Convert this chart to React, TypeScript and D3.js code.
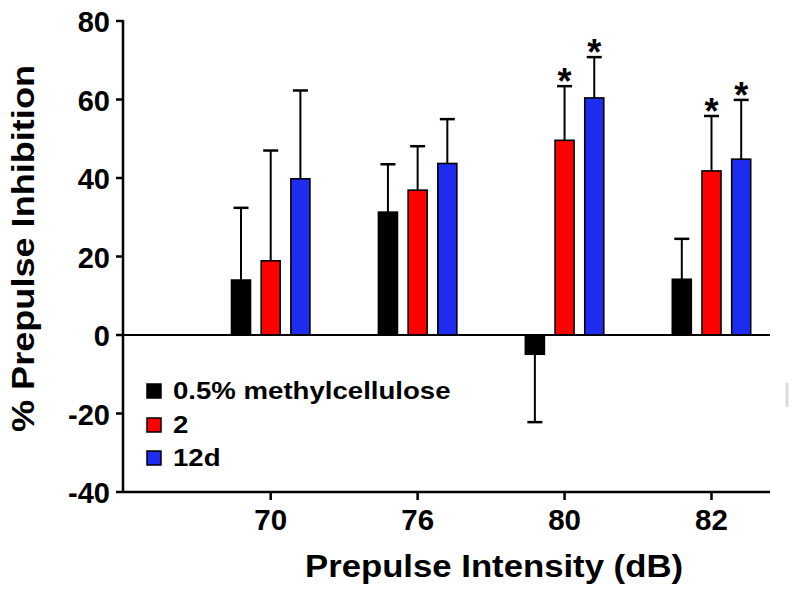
import React from "react";
import * as d3 from "d3";

const categories = ["70", "76", "80", "82"];
const seriesNames = ["0.5% methylcellulose", "2", "12d"];
const seriesColors = ["#000000", "#ff0000", "#1e2cf0"];
const vehicleMean = [14.0, 31.3, -4.9, 14.2];
const vehicleErr = [18.4, 12.2, 17.3, 10.3];
const cmpd2Mean = [18.9, 36.9, 49.6, 41.8];
const cmpd2Err = [28.1, 11.2, 13.8, 14.0];
const cmpd12dMean = [39.8, 43.7, 60.4, 44.8];
const cmpd12dErr = [22.5, 11.3, 10.4, 15.1];
const vehicleSig = [false, false, false, false];
const cmpd2Sig = [false, false, true, true];
const cmpd12dSig = [false, false, true, true];
const yTicks = [-40, -20, 0, 20, 40, 60, 80];

const FONT = "'Liberation Sans', Arial, Helvetica, sans-serif";

export default function App() {
  const means = [vehicleMean, cmpd2Mean, cmpd12dMean];
  const errs = [vehicleErr, cmpd2Err, cmpd12dErr];
  const sigs = [vehicleSig, cmpd2Sig, cmpd12dSig];

  const axisLeftX = 123;
  const axisRightX = 770;
  const y = d3.scaleLinear().domain([-40, 80]).range([492, 21]);
  const x = d3.scalePoint<string>().domain(categories).range([270.7, 711.5]);
  const inner = d3
    .scaleBand<string>()
    .domain(seriesNames)
    .range([-39.2, 39.2])
    .paddingInner(0.36)
    .paddingOuter(0);
  const bw = inner.bandwidth();
  const capW = 15;

  const bars: React.ReactNode[] = [];
  const errorBars: React.ReactNode[] = [];
  const stars: React.ReactNode[] = [];

  seriesNames.forEach((s, si) => {
    categories.forEach((c, ci) => {
      const v = means[si][ci];
      const e = errs[si][ci];
      const x0 = (x(c) as number) + (inner(s) as number);
      const cx = x0 + bw / 2;
      const yTop = y(Math.max(0, v));
      const yBot = y(Math.min(0, v));
      const eEnd = v >= 0 ? y(v + e) : y(v - e);
      const eStart = y(v);
      errorBars.push(
        <g key={`e-${si}-${ci}`} stroke="#000" strokeWidth={2}>
          <line x1={cx} x2={cx} y1={eStart} y2={eEnd} />
          <line x1={cx - capW / 2} x2={cx + capW / 2} y1={eEnd} y2={eEnd} strokeWidth={2.5} />
        </g>
      );
      bars.push(
        <rect
          key={`b-${si}-${ci}`}
          x={x0}
          y={yTop}
          width={bw}
          height={yBot - yTop}
          fill={seriesColors[si]}
          stroke="#000"
          strokeWidth={1.6}
        />
      );
      if (sigs[si][ci]) {
        stars.push(
          <text
            key={`s-${si}-${ci}`}
            x={cx}
            y={eEnd + 8}
            textAnchor="middle"
            fontFamily={FONT}
            fontWeight="bold"
            fontSize={36}
            fill="#000"
          >
            *
          </text>
        );
      }
    });
  });

  const legendRows = [399, 433, 466];

  return (
    <svg
      width={800}
      height={600}
      style={{ position: "absolute", left: 0, top: 0, background: "#fff" }}
    >
      <rect x={0} y={0} width={800} height={600} fill="#fff" />
      {errorBars}
      {bars}
      {stars}
      {/* zero line */}
      <line x1={axisLeftX} x2={axisRightX} y1={y(0)} y2={y(0)} stroke="#000" strokeWidth={2} />
      {/* y axis */}
      <line x1={axisLeftX} x2={axisLeftX} y1={y(80) - 1} y2={y(-40) + 1} stroke="#000" strokeWidth={2.5} />
      {yTicks.map((t) => (
        <g key={`yt-${t}`}>
          <line x1={axisLeftX - 7} x2={axisLeftX} y1={y(t)} y2={y(t)} stroke="#000" strokeWidth={2.5} />
          <text
            x={110}
            y={y(t) + 11}
            textAnchor="end"
            fontFamily={FONT}
            fontWeight="bold"
            fontSize={29}
            fill="#000"
          >
            {t}
          </text>
        </g>
      ))}
      {/* x axis */}
      <line x1={axisLeftX} x2={axisRightX} y1={y(-40)} y2={y(-40)} stroke="#000" strokeWidth={2.5} />
      {categories.map((c) => (
        <g key={`xt-${c}`}>
          <line x1={x(c)} x2={x(c)} y1={y(-40)} y2={y(-40) + 8} stroke="#000" strokeWidth={2.5} />
          <text
            x={x(c)}
            y={530}
            textAnchor="middle"
            fontFamily={FONT}
            fontWeight="bold"
            fontSize={29.5}
            fill="#000"
          >
            {c}
          </text>
        </g>
      ))}
      {/* axis titles */}
      <text
        x={494}
        y={577}
        textAnchor="middle"
        fontFamily={FONT}
        fontWeight="bold"
        fontSize={31}
        textLength={378}
        lengthAdjust="spacingAndGlyphs"
        fill="#000"
      >
        Prepulse Intensity (dB)
      </text>
      <text
        transform={`translate(34,248.5) rotate(-90)`}
        textAnchor="middle"
        fontFamily={FONT}
        fontWeight="bold"
        fontSize={31}
        textLength={367}
        lengthAdjust="spacingAndGlyphs"
        fill="#000"
      >
        % Prepulse Inhibition
      </text>
      {/* legend */}
      {seriesNames.map((s, i) => (
        <g key={`lg-${s}`}>
          <rect
            x={147}
            y={legendRows[i] - 15}
            width={14}
            height={14}
            fill={seriesColors[i]}
            stroke="#000"
            strokeWidth={1.5}
          />
          <g transform={`translate(173,${legendRows[i]}) scale(1.2,1)`}>
            <text x={0} y={0} fontFamily={FONT} fontWeight="bold" fontSize={23} fill="#000">
              {s}
            </text>
          </g>
        </g>
      ))}
      {/* faint scan artifact at right edge */}
      <line x1={787} x2={787} y1={383} y2={407} stroke="#dcdcdc" strokeWidth={3} />
    </svg>
  );
}
